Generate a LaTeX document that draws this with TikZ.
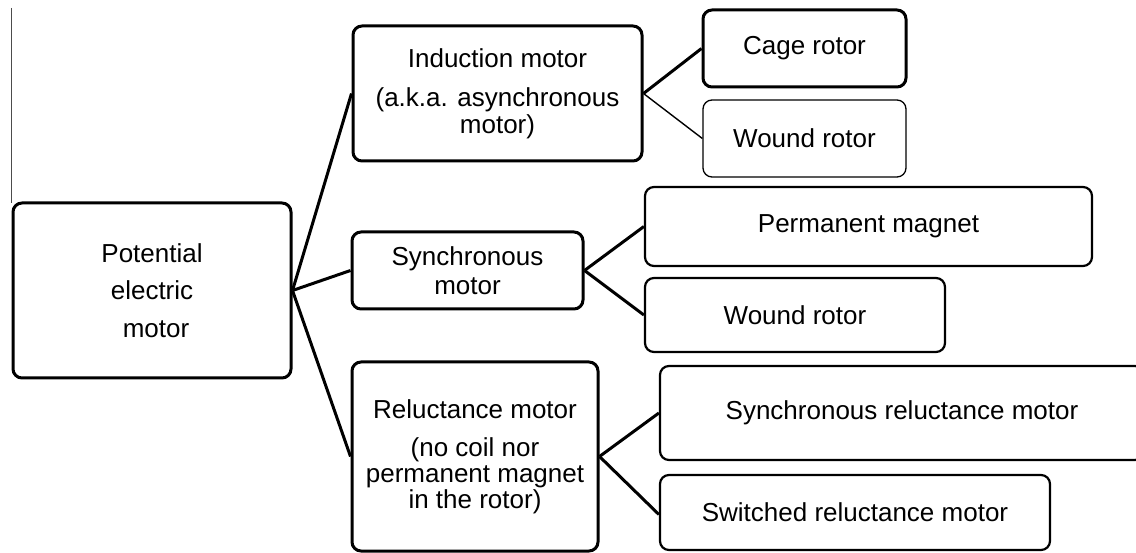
\documentclass[tikz,border=0pt]{standalone}
\usepackage{fontspec}
\setmainfont{Liberation Sans}
\begin{document}
\begin{tikzpicture}[x=1pt,y=-1pt,
  box/.style={draw, rounded corners=9pt, inner sep=0pt, align=center, font=\fontsize{26}{29}\selectfont},
  thickb/.style={box, line width=3pt},
  medb/.style={box, line width=2.2pt},
  thinb/.style={box, line width=1.3pt},
  link/.style={line width=3pt},
  thinlink/.style={line width=1.4pt}]
\useasboundingbox (0,0) rectangle (1136,553);
\clip (0,0) rectangle (1136,553);
% stray thin line at left
\draw[line width=0.9pt, black!70] (11,8) -- (11,203);
% boxes
\node[thickb, minimum width=278pt, minimum height=175pt, font=\fontsize{26}{37.5}\selectfont] (root) at (152,290.5)
  {Potential\\electric\hspace*{9pt}\\\hspace*{8pt}motor};
\node[thickb, minimum width=289pt, minimum height=135pt] (ind) at (497.5,93.5)
  {Induction motor\\[10pt](a.k.a. asynchronous\\[-2pt]motor)};
\node[thickb, minimum width=203pt, minimum height=77pt] (cage) at (804.5,48.5) {Cage rotor};
\node[thinb, minimum width=203pt, minimum height=77pt] (wr1) at (804.5,138.5) {Wound rotor};
\node[thickb, minimum width=231pt, minimum height=77pt] (sync) at (467.5,270.5) {Synchronous\\motor};
\node[medb, minimum width=447pt, minimum height=79pt] (pm) at (868.5,226.5) {Permanent magnet};
\node[medb, minimum width=300pt, minimum height=74pt] (wr2) at (795,315) {Wound rotor};
\node[thickb, minimum width=246pt, minimum height=189pt, font=\fontsize{26}{26}\selectfont] (rel) at (475,456.5)
  {Reluctance motor\\[12pt](no coil nor\\permanent magnet\\in the rotor)};
\node[medb, minimum width=484pt, minimum height=94pt] (srm) at (902,413) {Synchronous reluctance motor};
\node[medb, minimum width=390pt, minimum height=75pt] (swr) at (855,512.5) {Switched reluctance motor};
% connectors
\draw[link] (root.east) -- (ind.west);
\draw[link] (root.east) -- (sync.west);
\draw[link] (root.east) -- (rel.west);
\draw[link] (ind.east) -- (cage.west);
\draw[thinlink] (ind.east) -- (wr1.west);
\draw[link] (sync.east) -- (pm.west);
\draw[link] (sync.east) -- (wr2.west);
\draw[link] (rel.east) -- (srm.west);
\draw[link] (rel.east) -- ([yshift=-2pt]swr.west);
\end{tikzpicture}
\end{document}
